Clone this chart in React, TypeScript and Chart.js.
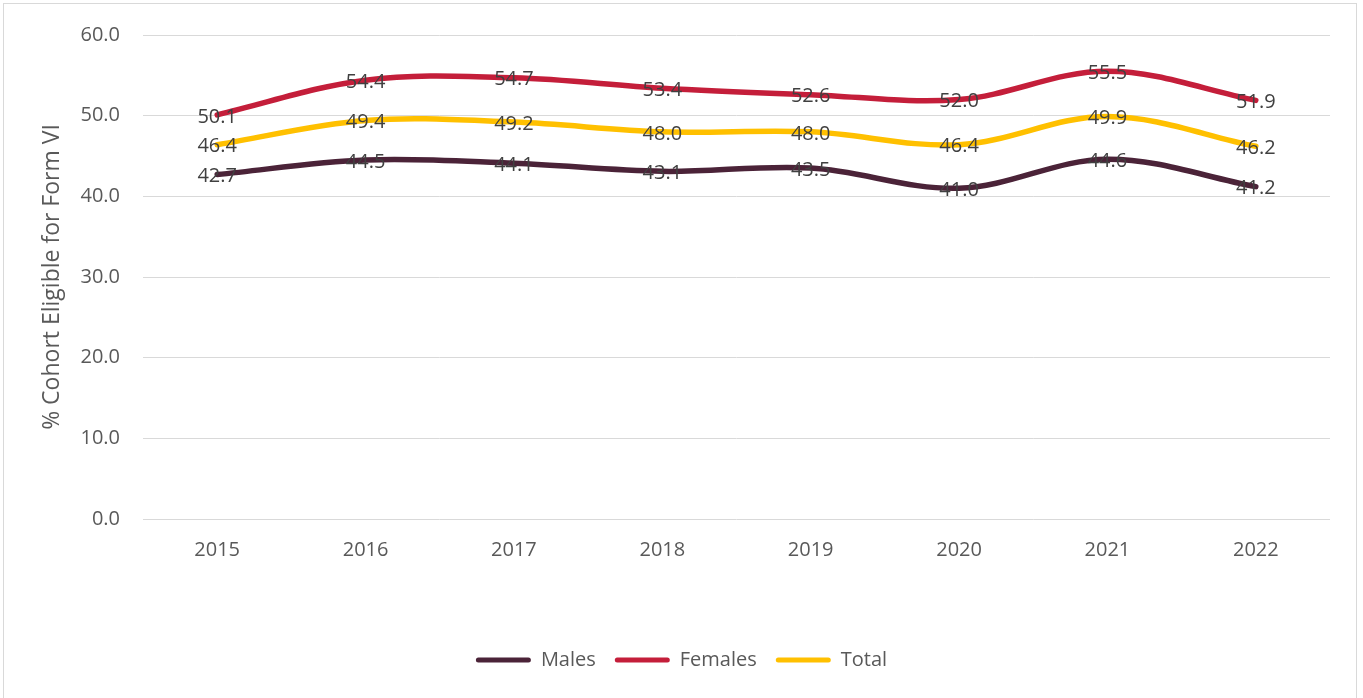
import React, { useEffect, useRef } from "react";
import { Chart, registerables } from "chart.js";

Chart.register(...registerables);

const years = ["2015", "2016", "2017", "2018", "2019", "2020", "2021", "2022"];
const males = [42.7, 44.5, 44.1, 43.1, 43.5, 41.0, 44.6, 41.2];
const females = [50.1, 54.4, 54.7, 53.4, 52.6, 52.0, 55.5, 51.9];
const total = [46.4, 49.4, 49.2, 48.0, 48.0, 46.4, 49.9, 46.2];
const seriesNames = ["Males", "Females", "Total"];
const seriesColors = ["#4B2338", "#C41E3A", "#FFC000"];

const FONT = "'Open Sans', 'Noto Sans', sans-serif";

const dataLabelPlugin = {
  id: "dataLabels",
  afterDatasetsDraw(chart: any) {
    const ctx = chart.ctx;
    ctx.save();
    ctx.font = `20px ${FONT}`;
    ctx.fillStyle = "#404040";
    ctx.textAlign = "center";
    ctx.textBaseline = "middle";
    chart.data.datasets.forEach((ds: any, di: number) => {
      const meta = chart.getDatasetMeta(di);
      meta.data.forEach((pt: any, i: number) => {
        const v = ds.data[i] as number;
        ctx.fillText(v.toFixed(1), pt.x, pt.y + 2);
      });
    });
    ctx.restore();
  },
};

export default function App() {
  const ref = useRef<HTMLCanvasElement | null>(null);

  useEffect(() => {
    if (!ref.current) return;
    const seriesData = [males, females, total];
    const chart = new Chart(ref.current, {
      type: "line",
      data: {
        labels: years,
        datasets: seriesNames.map((name, i) => ({
          label: name,
          data: seriesData[i],
          borderColor: seriesColors[i],
          backgroundColor: seriesColors[i],
          borderWidth: 5.5,
          borderCapStyle: "round" as const,
          pointRadius: 0,
          pointHoverRadius: 0,
          tension: 0.35,
          fill: false,
        })),
      },
      options: {
        responsive: false,
        animation: false,
        layout: { padding: { top: 33, right: 33, bottom: 18, left: 33 } },
        font: { family: FONT },
        plugins: {
          tooltip: { enabled: false },
          legend: {
            position: "bottom",
            labels: {
              font: { family: FONT, size: 20 },
              color: "#595959",
              boxWidth: 55,
              boxHeight: 5,
              padding: 19,
              useBorderRadius: true,
              borderRadius: 2.5,
              generateLabels: (c: any) =>
                c.data.datasets.map((ds: any, i: number) => ({
                  text: ds.label,
                  fillStyle: ds.borderColor,
                  strokeStyle: ds.borderColor,
                  lineWidth: 0,
                  fontColor: "#595959",
                  datasetIndex: i,
                  hidden: false,
                  borderRadius: 2.5,
                })),
            },
          },
        },
        scales: {
          x: {
            offset: true,
            grid: { display: false, drawTicks: false },
            border: { display: false },
            ticks: {
              color: "#595959",
              font: { family: FONT, size: 20 },
              padding: 19,
              maxRotation: 0,
            },
            afterFit: (s: any) => {
              s.height = 112;
            },
          },
          y: {
            min: 0,
            max: 60,
            grid: { color: "#D9D9D9", lineWidth: 1, drawTicks: false },
            border: { display: false },
            ticks: {
              stepSize: 10,
              color: "#595959",
              font: { family: FONT, size: 20 },
              padding: 23,
              callback: (v: any) => Number(v).toFixed(1),
            },
            title: {
              display: true,
              text: "% Cohort Eligible for Form VI",
              color: "#595959",
              font: { family: FONT, size: 23 },
              padding: { top: 6, bottom: 0 },
            },
            afterFit: (s: any) => {
              s.width = 110;
            },
          },
        },
      },
      plugins: [dataLabelPlugin],
    });
    return () => chart.destroy();
  }, []);

  return (
    <div
      style={{
        position: "fixed",
        left: 0,
        top: 0,
        width: 1363,
        height: 698,
        background: "#ffffff",
        overflow: "hidden",
      }}
    >
      <div
        style={{
          position: "absolute",
          left: 3,
          top: 3,
          width: 1354,
          height: 720,
          border: "1px solid #D9D9D9",
          boxSizing: "border-box",
        }}
      />
      <canvas
        ref={ref}
        width={1363}
        height={698}
        style={{ position: "absolute", left: 0, top: 0, width: 1363, height: 698 }}
      />
    </div>
  );
}
